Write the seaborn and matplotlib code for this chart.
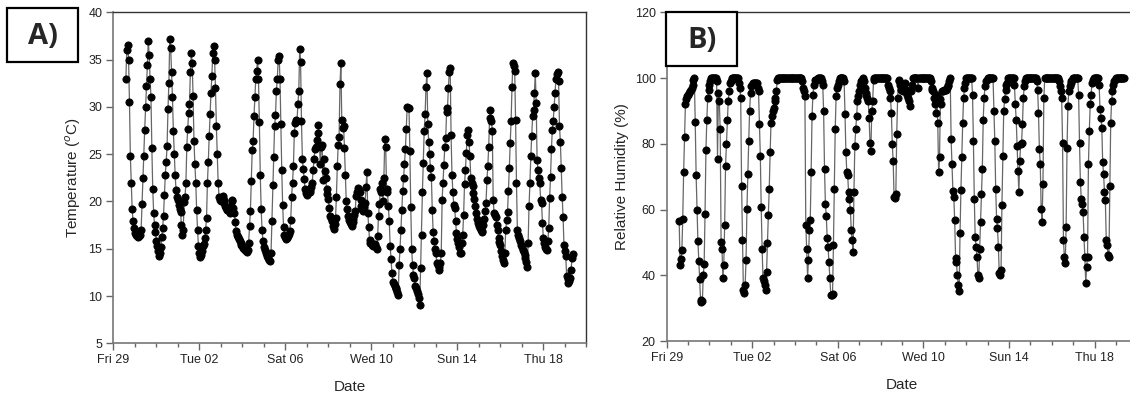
import pandas as pd
import seaborn as sns
import matplotlib.pyplot as plt
import matplotlib.dates as mdates
from matplotlib.patches import Rectangle
from matplotlib.ticker import FixedLocator

# hourly readings, first one at 14:00 on Fri 29 Mar
start = "2019-03-29 14:00"

temp_c = [
    33.0, 36.0, 36.5, 35.0, 30.5, 24.8, 22.0, 19.2, 17.9, 17.2,  # Mar 29 (14h-23h)
    16.7, 16.5, 16.3, 16.3, 16.2, 16.3, 16.5, 17.0, 19.7, 22.5, 24.8, 27.6, 30.0, 32.2, 34.4, 37.0, 35.5, 33.0, 31.0, 25.6, 21.3, 18.8, 17.5, 16.8,
    15.8, 15.3, 14.8, 14.2, 14.5, 15.2, 16.2, 17.2, 18.5, 20.7, 22.8, 24.2, 25.9, 29.8, 32.5, 37.2, 36.2, 33.7, 31.0, 27.5, 25.0, 22.8, 21.2, 20.5,
    20.2, 19.6, 19.2, 18.9, 17.5, 16.5, 17.0, 19.9, 20.5, 21.9, 25.8, 27.7, 29.3, 30.3, 33.7, 35.7, 34.6, 31.2, 26.4, 24.0, 22.0, 19.1, 17.0, 15.3,
    14.5, 14.1, 14.3, 14.8, 15.3, 15.5, 16.1, 17.0, 18.2, 21.9, 24.2, 26.9, 29.2, 31.5, 33.3, 35.7, 36.4, 35.0, 32.0, 28.0, 25.0, 22.0, 20.5, 20.2,
    20.0, 20.3, 20.6, 20.2, 19.8, 19.5, 19.3, 19.1, 19.3, 19.0, 18.8, 19.5, 20.2, 20.0, 19.3, 18.8, 17.8, 16.9, 16.5, 16.2, 16.0, 15.8, 15.6, 15.4,
    15.3, 15.1, 15.0, 14.9, 14.8, 14.7, 14.9, 15.6, 17.4, 19.0, 22.2, 25.4, 26.4, 29.0, 31.0, 33.0, 33.8, 35.0, 33.0, 28.4, 22.8, 19.2, 17.0, 15.8,
    15.2, 14.9, 14.6, 14.4, 14.2, 14.0, 13.8, 13.7, 14.5, 17.9, 21.7, 24.7, 28.0, 29.1, 31.7, 32.9, 35.0, 35.4, 33.0, 28.2, 23.3, 19.6, 17.3, 16.5,
    16.2, 16.0, 16.1, 16.3, 16.6, 16.9, 18.0, 20.5, 22.0, 23.7, 27.2, 28.3, 28.6, 28.5, 30.3, 31.7, 36.1, 34.7, 28.5, 24.5, 23.4, 22.4, 21.3, 20.9,
    20.7, 20.9, 21.2, 21.0, 21.2, 21.5, 22.0, 23.3, 24.5, 25.5, 25.8, 26.5, 27.2, 28.1, 26.0, 24.0, 25.8, 26.0, 22.3, 24.5, 23.2, 22.5, 21.3, 20.8,
    20.3, 19.3, 18.5, 18.2, 17.9, 17.4, 17.1, 17.6, 18.2, 20.5, 23.7, 26.0, 26.8, 32.4, 34.6, 28.6, 27.8, 28.0, 25.6, 22.8, 20.0, 19.2, 18.5, 18.0,
    17.8, 17.6, 17.4, 17.8, 18.1, 18.6, 19.0, 20.6, 21.0, 21.4, 21.2, 21.0, 20.2, 19.5, 19.2, 19.0, 19.4, 19.8, 21.5, 23.1, 18.8, 17.3, 15.9, 15.6,
    15.6, 15.4, 15.3, 15.4, 15.5, 15.2, 15.0, 16.3, 18.5, 19.7, 21.3, 21.0, 22.0, 20.0, 22.5, 26.6, 25.8, 21.3, 21.0, 19.5, 17.9, 15.3, 13.9, 12.4,
    11.5, 11.3, 11.1, 10.9, 10.7, 10.4, 10.1, 13.3, 15.0, 17.0, 19.1, 21.1, 22.5, 24.0, 25.5, 27.7, 30.0, 29.9, 29.9, 25.3, 19.4, 15.0, 13.3, 12.2,
    11.9, 11.1, 10.8, 10.5, 10.2, 9.8, 9.1, 13.0, 16.5, 21.0, 24.1, 27.5, 29.2, 32.1, 33.6, 28.2, 26.3, 25.0, 23.5, 22.6, 19.1, 16.8, 15.8, 15.0,
    14.5, 13.5, 13.3, 13.1, 12.8, 13.5, 14.5, 20.2, 22.0, 23.9, 25.8, 26.7, 29.5, 29.9, 32.0, 33.7, 34.1, 27.0, 22.8, 21.0, 19.6, 19.3, 17.9, 16.7,
    16.0, 15.6, 15.2, 14.5, 14.6, 15.6, 16.5, 18.6, 21.8, 23.3, 25.1, 27.0, 27.6, 26.3, 24.8, 22.5, 22.0, 21.6, 20.9, 20.3, 19.5, 18.8, 18.1, 17.7,
    17.4, 17.2, 17.0, 16.9, 16.8, 17.5, 18.1, 19.0, 19.8, 22.3, 23.7, 25.8, 28.8, 29.7, 28.5, 27.4, 20.2, 18.8, 18.6, 18.4, 17.5, 17.0, 16.1, 15.7,
    15.4, 14.8, 14.2, 13.8, 13.5, 14.5, 17.0, 18.0, 18.9, 21.1, 23.5, 26.2, 28.5, 32.1, 34.6, 34.3, 33.8, 28.6, 21.9, 17.0, 16.5, 16.1, 15.8, 15.4,
    15.2, 14.9, 14.7, 14.3, 14.0, 13.6, 13.1, 15.6, 19.5, 21.9, 24.8, 26.9, 29.0, 29.7, 31.5, 33.6, 30.4, 24.4, 23.3, 22.5, 21.9, 20.2, 19.8, 17.7,
    16.1, 15.6, 15.2, 15.0, 14.9, 15.8, 17.2, 20.4, 22.6, 25.5, 27.6, 28.5, 30.0, 31.5, 32.9, 33.5, 33.7, 32.7, 28.0, 26.3, 23.5, 20.5, 18.4, 15.4,
    14.8, 14.2, 12.1, 11.8, 11.4, 11.6, 11.9, 12.8, 14.0, 14.4,  # Apr 19 (0h-9h)
]

rh_pct = [
    56.7, 43.2, 45.0, 47.7, 57.3, 71.5, 82.0, 92.0, 93.5, 94.5,  # Mar 29 (14h-23h)
    95.0, 95.5, 96.0, 96.5, 97.0, 98.0, 99.5, 100, 86.7, 70.5, 60.0, 50.5, 44.5, 39.0, 32.5, 32.0, 32.2, 40.0, 43.5, 58.8, 78.0, 87.4, 94.0, 96.5,
    98, 99, 100, 100, 100, 100, 100, 100, 99, 75.5, 95.5, 93, 84.4, 50.3, 48.2, 39.2, 43.2, 55.3, 73.4, 80, 87.4, 93, 96, 98.5,
    99, 100, 100, 100, 100, 100, 100, 100, 100, 98.5, 97, 94, 67.3, 50.7, 35.7, 34.7, 37.2, 44.7, 60.3, 70.9, 80.9, 90, 95.5, 97.5,
    98, 98.5, 98.5, 98.5, 98.5, 98.5, 97, 96, 85.9, 76.4, 60.8, 48.2, 39.2, 38.2, 37, 35.7, 41.2, 50, 58.3, 66.3, 77.4, 86.4, 88.4, 90,
    91, 93, 94, 96, 99.5, 100, 100, 100, 100, 100, 100, 100, 100, 100, 100, 100, 100, 100, 100, 100, 100, 100, 100, 100,
    100, 100, 100, 100, 100, 100, 100, 100, 99, 97, 96, 94.5, 55.3, 48.2, 39.2, 44.7, 53.8, 56.8, 71.4, 88.4, 95, 98, 99.5, 99.5,
    99.5, 99.5, 100, 100, 100, 100, 99, 98, 90, 72.4, 61.8, 58, 51.3, 48.7, 44.2, 39.2, 34.2, 34.2, 34.5, 49.2, 66.3, 84.4, 94.5, 97,
    98, 99, 100, 100, 100, 100, 100, 99, 89, 77.4, 71.4, 70.4, 65.3, 63.3, 59.8, 53.8, 50.8, 47.2, 65.3, 79.4, 84.4, 88.4, 93, 94.5,
    96, 98, 99, 99.5, 100, 99, 97, 95.5, 95, 94, 93, 88, 80.4, 77.9, 90, 93, 99.5, 100, 100, 100, 100, 100, 100, 100,
    100, 100, 100, 100, 100, 100, 100, 100, 98, 97, 96, 94, 89.4, 80, 74.9, 63.8, 63.5, 64.8, 82.9, 94, 99.5, 99, 98, 96.5,
    97, 96, 97, 98.5, 96.5, 96, 95, 94, 93, 91.5, 96, 98, 100, 100, 100, 100, 100, 100, 97, 100, 100, 100, 100, 100,
    100, 100, 100, 100, 100, 100, 100, 100, 99, 97, 96.5, 96, 94, 92, 89.4, 95, 86.4, 71.4, 75.9, 93.5, 92, 96, 96, 96.5,
    96.5, 96.5, 97, 97.5, 98, 99, 100, 81.4, 73.9, 65.8, 63.8, 56.8, 45.2, 44.2, 40, 37.2, 35.2, 52.8, 66, 75.9, 86.4, 94, 97, 98.5,
    100, 100, 100, 100, 100, 100, 100, 95, 80.9, 63.3, 51.8, 48.7, 45.7, 40.2, 39.2, 48.2, 56.3, 64.8, 72.4, 87.4, 94, 97.5, 99, 99.5,
    100, 100, 100, 100, 100, 100, 100, 90, 80.9, 66.3, 57.3, 54.3, 48.7, 40.7, 40.2, 41.7, 61.3, 76.4, 90, 93.5, 96.5, 98, 98.5, 100,
    100, 100, 100, 100, 100, 100, 98, 92, 87.4, 79.4, 71.9, 65.3, 74.9, 79.9, 80.4, 85.9, 94, 97.5, 99, 100, 100, 100, 100, 100,
    100, 100, 100, 100, 100, 100, 100, 99, 96.5, 89.4, 78.4, 73.9, 60.3, 56.3, 67.8, 94, 100, 100, 100, 100, 100, 100, 100, 100,
    100, 100, 100, 100, 100, 100, 100, 100, 99, 97.5, 96, 94, 80.4, 50.8, 45.7, 43.7, 54.8, 78.9, 91.5, 96, 97.5, 98.5, 99, 99.5,
    100, 100, 100, 100, 100, 100, 95, 80.4, 68.3, 63.3, 61.8, 59.3, 51.8, 45.7, 37.7, 42.7, 45.7, 73.9, 83.9, 92, 95, 98.5, 99.5, 100,
    100, 100, 100, 100, 100, 98, 90.5, 88, 84.9, 74.4, 70.9, 65.3, 62.8, 50.8, 49.2, 46.2, 45.7, 67.3, 86.4, 93, 96, 98, 99, 99.5,
    100, 100, 100, 100, 100, 100, 100, 100, 100, 100,  # Apr 19 (0h-9h)
]

tick_days = ["2019-03-29", "2019-04-02", "2019-04-06", "2019-04-10", "2019-04-14", "2019-04-18"]
x_range = ["2019-03-29", "2019-04-20"]

df = pd.DataFrame({
    "Date": pd.date_range(start, periods=len(temp_c), freq="h"),
    "temp": temp_c,
    "rh": rh_pct,
})

sns.set_style("ticks")
plt.rcParams["font.family"] = ["Liberation Sans", "DejaVu Sans"]

fig = plt.figure(figsize=(11.3, 4.01), dpi=100)
ax1 = fig.add_axes([0.1003, 0.1439, 0.4186, 0.8254])
ax2 = fig.add_axes([0.5900, 0.1489, 0.4166, 0.8204])

line_kw = dict(color="#666666", linewidth=0.9, marker="o", markersize=5.2,
               markerfacecolor="black", markeredgecolor="black", markeredgewidth=0.6)

sns.lineplot(data=df, x="Date", y="temp", ax=ax1, **line_kw)
sns.lineplot(data=df, x="Date", y="rh", ax=ax2, **line_kw)

ax1.set_ylim(5, 40)
ax1.set_yticks(range(5, 41, 5))
ax2.set_ylim(20, 120)
ax2.set_yticks(range(20, 121, 20))
ax1.set_ylabel("Temperature ($^o$C)", fontsize=11)
ax2.set_ylabel("Relative Humidity (%)", fontsize=11)

for ax in (ax1, ax2):
    ax.set_xlim(pd.Timestamp(x_range[0]), pd.Timestamp(x_range[1]))
    ax.xaxis.set_major_locator(FixedLocator(mdates.date2num(pd.to_datetime(tick_days))))
    ax.xaxis.set_minor_locator(mdates.DayLocator())
    ax.xaxis.set_major_formatter(mdates.DateFormatter("%a %d"))
    ax.set_xlabel("Date", fontsize=11, labelpad=10)
    ax.tick_params(which="major", direction="out", length=5, width=1, color="#666666",
                   labelsize=9, labelcolor="#222222", pad=3)
    ax.tick_params(which="minor", direction="out", length=3, width=1, color="#666666")
    for side in ("left", "bottom"):
        ax.spines[side].set_color("#777777")
        ax.spines[side].set_linewidth(1.2)
    for side in ("top", "right"):
        ax.spines[side].set_visible(True)
        ax.spines[side].set_color("#333333")
        ax.spines[side].set_linewidth(1.0)

# panel letters in boxes
for (x0, y0, label) in [(7, 8, "A)"), (666, 12, "B)")]:
    fig.add_artist(Rectangle((x0 / 1130, 1 - (y0 + 54) / 401), 71 / 1130, 54 / 401,
                             transform=fig.transFigure, facecolor="white",
                             edgecolor="black", linewidth=1.6, zorder=5))
    fig.text((x0 + 35.5) / 1130, 1 - (y0 + 28) / 401, label, ha="center", va="center",
             fontsize=21, fontweight="bold", family=["Open Sans", "DejaVu Sans"], zorder=6)

fig.savefig("out.png", dpi=100)
